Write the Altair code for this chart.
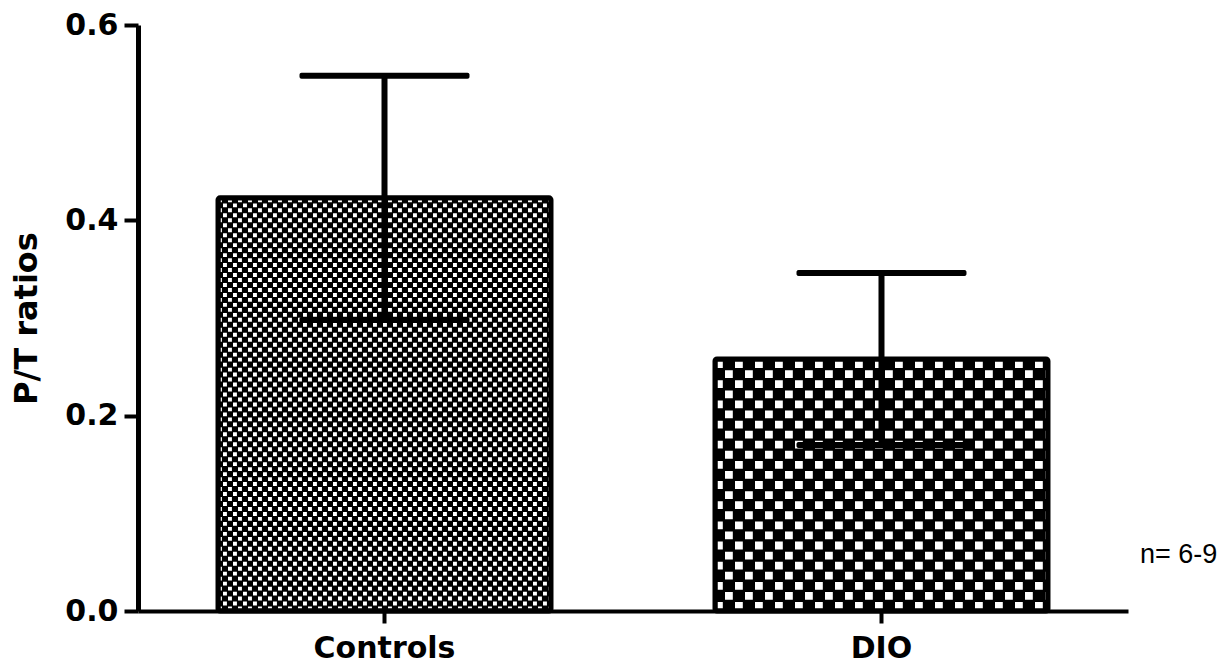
import altair as alt
import pandas as pd

# ---- data ----
categories = ["Controls", "DIO"]
means = [0.423, 0.258]
sems = [0.125, 0.088]
y_ticks = [0.0, 0.2, 0.4, 0.6]
y_title = "P/T ratios"
note = "n= 6-9"

# ---- style ----
cell_px = {"Controls": 5, "DIO": 10}   # checker cell size for each bar
W, H = 990, 586
YMAX = 0.6
ppu = H / YMAX

bars = pd.DataFrame({"cat": categories, "mean": means, "sem": sems})
bars["lo"] = bars["mean"] - bars["sem"]
bars["hi"] = bars["mean"] + bars["sem"]

# checker texture rows, derived from each bar's value
rows = []
for cat, m in zip(categories, means):
    c = cell_px[cat]
    n = int(round(m * ppu / c))
    for i in range(n):
        rows.append({"cat": cat, "y": (i + 0.5) * m / n, "odd": i % 2})
rows = pd.DataFrame(rows)

xscale = alt.Scale(domain=categories, paddingInner=0.33, paddingOuter=0.161)
yscale = alt.Scale(domain=[0, YMAX], nice=False, zero=True)
xaxis = alt.Axis(title=None, labelAngle=0, labelFont="DejaVu Sans", labelFontWeight="bold",
                 labelFontSize=30, labelColor="black", labelPadding=10, tickSize=12,
                 tickWidth=4, tickColor="black", domainColor="black", domainWidth=4,
                 grid=False)
yaxis = alt.Axis(title=y_title, values=y_ticks, format=".1f", labelFont="DejaVu Sans",
                 labelFontWeight="bold", labelFontSize=30, labelColor="black",
                 labelPadding=6, tickSize=14, tickWidth=4, tickColor="black",
                 domainColor="black", domainWidth=5, grid=False,
                 titleFont="DejaVu Sans", titleFontWeight="bold", titleFontSize=32,
                 titleColor="black", titleAngle=270, titleX=-95, titleY=H / 2)


def X():
    return alt.X("cat:N", scale=xscale, axis=xaxis, sort=categories)


def Y(field):
    return alt.Y(field, type="quantitative", scale=yscale, axis=yaxis, title=y_title)


base_bar = alt.Chart(bars).mark_bar(color="black", opacity=1).encode(x=X(), y=Y("mean"))

checker_layers = []
for cat in categories:
    c = cell_px[cat]
    w = 0.78 * c
    for odd in (0, 1):
        layer = (
            alt.Chart(rows)
            .transform_filter((alt.datum.cat == cat) & (alt.datum.odd == odd))
            .mark_rule(color="white", opacity=1, strokeWidth=w, strokeDash=[w, 2 * c - w],
                       strokeDashOffset=(c if odd else 0), strokeCap="butt")
            .encode(
                x=alt.X("cat:N", scale=xscale, axis=xaxis, sort=categories, bandPosition=0),
                x2=alt.X2("cat:N", bandPosition=1),
                y=Y("y"),
            )
        )
        checker_layers.append(layer)

border = alt.Chart(bars).mark_bar(fillOpacity=0, stroke="black", strokeOpacity=1,
                                  strokeWidth=5, cornerRadius=2).encode(x=X(), y=Y("mean"))

stem = alt.Chart(bars).mark_rule(color="black", opacity=1, strokeWidth=6).encode(
    x=X(), y=Y("lo"), y2="hi")
cap_hi = alt.Chart(bars).mark_tick(color="black", opacity=1, thickness=6, size=170,
                                   cornerRadius=2).encode(x=X(), y=Y("hi"))
cap_lo = alt.Chart(bars).mark_tick(color="black", opacity=1, thickness=6, size=170,
                                   cornerRadius=2).encode(x=X(), y=Y("lo"))

note_layer = alt.Chart(alt.Data(values=[{"t": note}])).mark_text(
    align="left", baseline="middle", font="Liberation Sans", fontSize=27, color="black"
).encode(x=alt.value(1002), y=alt.value(530), text="t:N")

chart = alt.layer(base_bar, *checker_layers, border, stem, cap_hi, cap_lo, note_layer).properties(
    width=W, height=H,
    autosize=alt.AutoSizeParams(type="none"),
    padding={"left": 138, "top": 25, "right": 104, "bottom": 58},
    background="white",
).configure_view(stroke=None)

chart.save("out.html", embed_options={"renderer": "svg", "actions": False})
